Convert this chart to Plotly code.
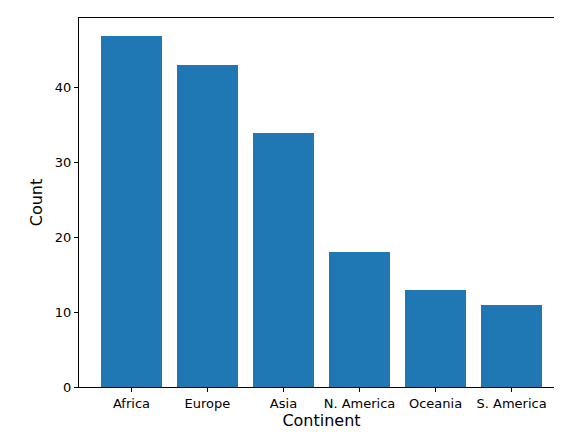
import plotly.graph_objects as go

continents = ["Africa", "Europe", "Asia", "N. America", "Oceania", "S. America"]
counts = [47, 43, 34, 18, 13, 11]

fig = go.Figure()
fig.add_trace(go.Bar(x=list(range(len(continents))), y=counts, width=0.8,
                     marker=dict(color="#1f77b4", line=dict(width=0))))

axis_style = dict(showline=True, linecolor="black", linewidth=1, mirror=True,
                  ticks="outside", ticklen=4, tickcolor="black", showgrid=False,
                  zeroline=False, automargin=False,
                  tickfont=dict(family="DejaVu Sans", size=13, color="black"))

fig.update_layout(
    width=562, height=432,
    margin=dict(l=71, r=6, t=10, b=53, autoexpand=False),
    plot_bgcolor="white", paper_bgcolor="white",
    showlegend=False,
    bargap=0,
    font=dict(family="DejaVu Sans", size=13, color="black"),
    xaxis=dict(axis_style, range=[-0.69, 5.69], tickvals=list(range(len(continents))),
               ticktext=continents, title=dict(text="Continent", standoff=4)),
    yaxis=dict(axis_style, range=[0, 49.35], tickvals=[0, 10, 20, 30, 40],
               title=dict(text="Count", standoff=8)),
)

fig.write_html("out.html")
